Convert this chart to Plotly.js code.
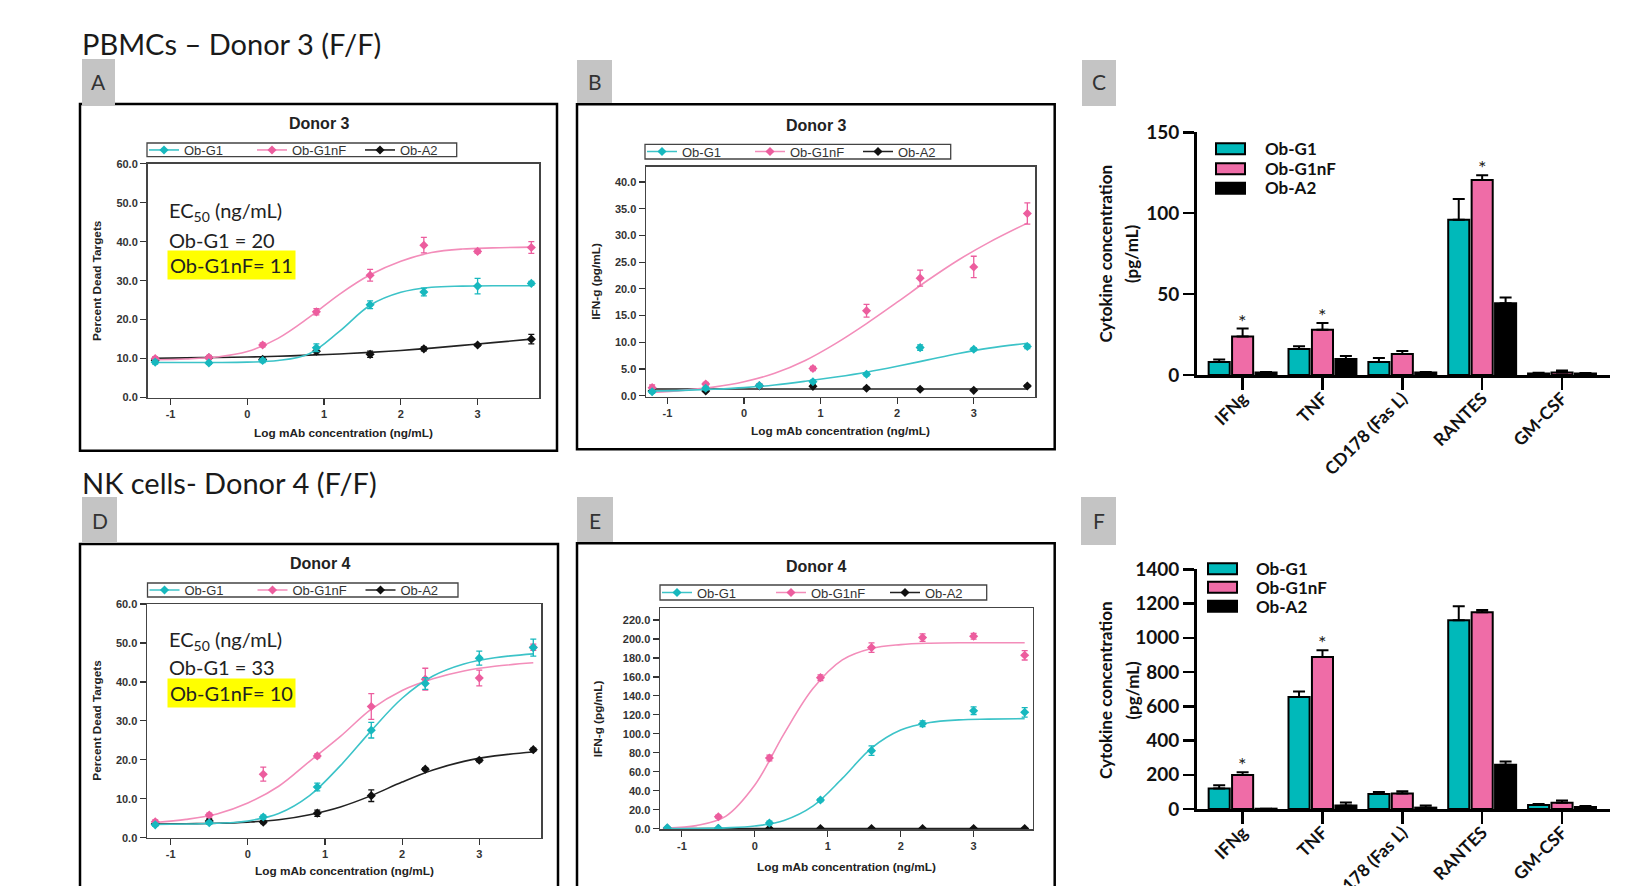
<!DOCTYPE html>
<html><head><meta charset="utf-8">
<script src="https://cdn.plot.ly/plotly-3.0.1.min.js"></script>
<style>html,body{margin:0;padding:0;background:#fff;}#chart{width:1627px;height:886px;}</style>
</head><body><div id="chart"></div>
<script>
// ---------------- DATA ----------------
const seriesNames = ['Ob-G1', 'Ob-G1nF', 'Ob-A2'];
const doses = [-1.2, -0.5, 0.2, 0.9, 1.6, 2.3, 3.0, 3.7];           // log mAb concentration (ng/mL)
const fitX  = [-1.2, -0.8, -0.4, 0, 0.4, 0.8, 1.2, 1.6, 2.0, 2.4, 2.8, 3.2, 3.7];
const xTickVals = [-1, 0, 1, 2, 3];
const xTickText = ['-1', '0', '1', '2', '3'];

// Panel A – PBMCs Donor 3, percent dead targets
const aG1      = [9.1, 8.9, 9.5, 12.8, 23.8, 27.1, 28.6, 29.3];
const aG1Err   = [0.5, 0.4, 0.5, 1.0, 1.0, 1.0, 2.0, 0.5];
const aG1nF    = [10.0, 10.3, 13.5, 22.0, 31.4, 39.1, 37.5, 38.5];
const aG1nFErr = [0.5, 0.5, 0.5, 0.8, 1.5, 2.0, 0.5, 1.5];
const aA2      = [9.6, 10.2, 9.8, 11.9, 11.1, 12.5, 13.5, 15.0];
const aA2Err   = [0.3, 0.4, 0.4, 0.8, 0.8, 0.5, 0.3, 1.2];
const aG1Fit   = [9.0, 9.0, 9.0, 9.1, 9.5, 11.2, 17.0, 23.7, 27.0, 28.3, 28.6, 28.7, 28.7];
const aG1nFFit = [9.7, 9.9, 10.4, 11.8, 15.2, 20.5, 26.5, 31.5, 35.0, 37.2, 38.1, 38.4, 38.6];
const aA2Fit   = [10.1, 10.2, 10.3, 10.4, 10.6, 10.9, 11.2, 11.6, 12.1, 12.7, 13.4, 14.1, 15.0];

// Panel B – PBMCs Donor 3, IFN-g
const bG1      = [0.75, 1.4, 1.9, 2.6, 4.0, 9.0, 8.7, 9.2];
const bG1Err   = [0.3, 0.3, 0.3, 0.3, 0.3, 0.5, 0.3, 0.4];
const bG1nF    = [1.5, 2.2, 1.9, 5.1, 15.9, 22.0, 24.1, 34.1];
const bG1nFErr = [0.5, 0.3, 0.3, 0.4, 1.2, 1.5, 2.0, 2.0];
const bA2      = [0.9, 0.9, 1.8, 1.75, 1.4, 1.2, 1.0, 1.8];
const bA2Err   = [0.2, 0.2, 0.2, 0.2, 0.2, 0.2, 0.2, 0.2];
const bG1Fit   = [0.9, 1.0, 1.2, 1.5, 2.0, 2.7, 3.5, 4.4, 5.5, 6.7, 7.9, 8.9, 9.8];
const bG1nFFit = [0.6, 1.0, 1.6, 2.6, 4.2, 6.6, 9.8, 13.5, 17.5, 21.6, 25.4, 28.7, 32.3];
const bA2Fit   = [1.25, 1.25, 1.25, 1.25, 1.25, 1.25, 1.25, 1.25, 1.25, 1.25, 1.25, 1.25, 1.25];

// Panel D – NK cells Donor 4, percent dead targets
const dG1      = [3.3, 3.85, 5.3, 13.0, 27.6, 39.6, 46.1, 48.8];
const dG1Err   = [0.4, 0.4, 0.5, 1.0, 2.0, 1.5, 1.8, 2.2];
const dG1nF    = [4.1, 5.8, 16.3, 21.0, 33.7, 40.7, 41.0, 48.9];
const dG1nFErr = [0.5, 0.5, 1.8, 0.5, 3.3, 2.8, 2.0, 0.8];
const dA2      = [3.5, 4.3, 4.0, 6.3, 10.8, 17.6, 19.9, 22.6];
const dA2Err   = [0.3, 0.5, 0.4, 0.8, 1.5, 0.4, 0.4, 0.4];
const dG1Fit   = [3.4, 3.5, 3.7, 4.3, 6.2, 10.8, 18.5, 27.5, 35.8, 41.5, 44.6, 46.2, 47.2];
const dG1nFFit = [3.9, 4.7, 6.1, 8.9, 13.2, 19.6, 26.0, 33.0, 37.8, 40.8, 42.8, 44.0, 44.9];
const dA2Fit   = [3.5, 3.6, 3.7, 4.0, 4.6, 5.9, 7.9, 10.8, 14.3, 17.4, 19.6, 21.0, 22.0];

// Panel E – NK cells Donor 4, IFN-g
const eG1      = [1.0, 0.4, 6.0, 30.2, 82.3, 110.7, 124.4, 122.7];
const eG1Err   = [0.5, 0.5, 2.0, 1.5, 5.0, 3.0, 4.0, 5.0];
const eG1nF    = [0.8, 12.7, 74.5, 159.2, 190.9, 201.4, 202.8, 182.8];
const eG1nFErr = [0.5, 1.5, 3.0, 3.0, 5.0, 4.0, 3.0, 5.0];
const eA2      = [0.2, 0.3, 0.3, 0.3, 0.3, 0.3, 0.3, 0.3];
const eA2Err   = [0.3, 0.3, 0.3, 0.3, 0.3, 0.3, 0.3, 0.3];
const eG1Fit   = [0.1, 0.2, 0.9, 2.8, 8.7, 24, 53, 85, 104, 112, 114.7, 115.5, 116];
const eG1nFFit = [0.8, 3.3, 13, 46, 100, 148, 178, 190, 194, 195.5, 196, 196, 196];
const eA2Fit   = [0.3, 0.3, 0.3, 0.3, 0.3, 0.3, 0.3, 0.3, 0.3, 0.3, 0.3, 0.3, 0.3];

// Panels C and F – cytokine bar charts
const cytokines = ['IFNg', 'TNF', 'CD178 (Fas L)', 'RANTES', 'GM-CSF'];
const cG1      = [8.0, 16.1, 8.0, 96.0, 1.0];
const cG1Err   = [1.6, 1.7, 2.5, 12.8, 0.4];
const cG1nF    = [23.8, 27.9, 13.0, 120.5, 1.6];
const cG1nFErr = [4.9, 4.3, 1.9, 3.0, 1.2];
const cA2      = [1.6, 9.9, 1.6, 44.4, 1.0];
const cA2Err   = [0.3, 1.9, 0.3, 3.5, 0.3];
const cStars   = ['IFNg', 'TNF', 'RANTES'];

const fG1      = [120, 654, 88, 1102, 23];
const fG1Err   = [19, 33, 12, 82, 6];
const fG1nF    = [199, 888, 90, 1149, 37];
const fG1nFErr = [16, 39, 13, 14, 12];
const fA2      = [2, 21, 8, 259, 12];
const fA2Err   = [0, 17, 13, 19, 6];
const fStars   = ['IFNg', 'TNF'];

// ---------------- STYLE ----------------
const W = 1627, H = 886;
const px = v => v / W, py = v => 1 - v / H;
const ARIAL = 'Arial, "Liberation Sans", sans-serif';
const LATO = 'Lato, "Noto Sans", sans-serif';
const lineCol = ['#3CC3C8', '#F38DBA', '#222222'];
const markCol = ['#17B8BE', '#EC5D9E', '#111111'];
const barCol  = ['#00B9BA', '#EF6CA7', '#000000'];

const traces = [];

function linePanel(ax, pts, errs, fits, legendName) {
  const xa = 'x' + ax, ya = 'y' + ax;
  [2, 1, 0].forEach(i => {
    traces.push({x: fitX, y: fits[i], xaxis: xa, yaxis: ya, mode: 'lines', showlegend: false,
      line: {color: lineCol[i], width: 1.6, shape: 'spline', smoothing: 1}, hoverinfo: 'skip'});
    traces.push({x: doses, y: pts[i], xaxis: xa, yaxis: ya, mode: 'markers', showlegend: false,
      marker: {symbol: 'diamond', size: 7, color: markCol[i]},
      error_y: {type: 'data', array: errs[i], color: markCol[i], thickness: 1.3, width: 3}});
  });
  [0, 1, 2].forEach(i => {
    traces.push({x: [null], y: [null], xaxis: xa, yaxis: ya, mode: 'lines+markers', name: seriesNames[i],
      legend: legendName, line: {color: lineCol[i], width: 1.6}, marker: {symbol: 'diamond', size: 7, color: markCol[i]}});
  });
}

function barPanel(ax, vals, errs) {
  [0, 1, 2].forEach(i => {
    traces.push({type: 'bar', x: cytokines, y: vals[i], xaxis: 'x' + ax, yaxis: 'y' + ax, name: seriesNames[i],
      showlegend: false, marker: {color: barCol[i], line: {color: '#000', width: 2}},
      error_y: {type: 'data', symmetric: false, array: errs[i], arrayminus: [0, 0, 0, 0, 0], color: '#000', thickness: 2, width: 6}});
  });
}

linePanel('', [aG1, aG1nF, aA2], [aG1Err, aG1nFErr, aA2Err], [aG1Fit, aG1nFFit, aA2Fit], 'legend');
linePanel('2', [bG1, bG1nF, bA2], [bG1Err, bG1nFErr, bA2Err], [bG1Fit, bG1nFFit, bA2Fit], 'legend2');
barPanel('3', [cG1, cG1nF, cA2], [cG1Err, cG1nFErr, cA2Err]);
linePanel('4', [dG1, dG1nF, dA2], [dG1Err, dG1nFErr, dA2Err], [dG1Fit, dG1nFFit, dA2Fit], 'legend4');
linePanel('5', [eG1, eG1nF, eA2], [eG1Err, eG1nFErr, eA2Err], [eG1Fit, eG1nFFit, eA2Fit], 'legend5');
barPanel('6', [fG1, fG1nF, fA2], [fG1Err, fG1nFErr, fA2Err]);

// ---------------- AXES ----------------
function lineX(d0, d1, r, anchor) {
  return {domain: [px(d0), px(d1)], range: r, anchor: anchor, tickvals: xTickVals, ticktext: xTickText,
    ticks: 'outside', ticklen: 6, tickwidth: 1.2, tickcolor: '#333', showline: true, linecolor: '#444', linewidth: 1.5,
    mirror: true, showgrid: false, zeroline: false, tickfont: {family: ARIAL, size: 11, weight: 'bold', color: '#333'}};
}
function lineY(top, bot, r, dt, anchor) {
  return {domain: [py(bot), py(top)], range: r, dtick: dt, tick0: 0, tickformat: '.1f', anchor: anchor,
    ticks: 'outside', ticklen: 6, tickwidth: 1.2, tickcolor: '#333', showline: true, linecolor: '#444', linewidth: 1.5,
    mirror: true, showgrid: false, zeroline: false, tickfont: {family: ARIAL, size: 11, weight: 'bold', color: '#333'}};
}
function barX(anchor) {
  return {domain: [px(1196.7), px(1609.7)], range: [-0.575, 4.597], type: 'category', anchor: anchor,
    ticks: 'outside', ticklen: 12, tickwidth: 2.5, tickcolor: '#000', showline: true, linecolor: '#000', linewidth: 2.5,
    showgrid: false, zeroline: false, tickangle: -45, ticklabelstandoff: -8,
    tickfont: {family: LATO, size: 17.5, weight: 'bold', color: '#111'}};
}
function barY(top, bot, r, dt, anchor) {
  return {domain: [py(bot), py(top)], range: r, dtick: dt, anchor: anchor,
    ticks: 'outside', ticklen: 11, tickwidth: 2.5, tickcolor: '#000', showline: true, linecolor: '#000', linewidth: 2.5,
    showgrid: false, zeroline: false, tickfont: {family: LATO, size: 19, weight: 'bold', color: '#111'}};
}

function lineLegend(x, yc, ew) {
  return {x: px(x), y: py(yc), xanchor: 'left', yanchor: 'middle', orientation: 'h', borderwidth: 0,
    bgcolor: 'rgba(255,255,255,0)', font: {family: ARIAL, size: 13, color: '#333'}, entrywidth: ew, entrywidthmode: 'pixels',
    itemclick: false, itemdoubleclick: false};
}

// ---------------- SHAPES ----------------
const frames = [[80, 104, 557, 450.7], [577, 104.3, 1054.7, 449.3], [80, 544, 558, 905], [577, 543.3, 1054.7, 905]];
const labelBoxes = [[82, 59, 115, 106], [577, 60, 612, 103], [1082, 60, 1116, 106], [82, 497, 117, 543], [577, 497, 613, 542], [1081, 497, 1116, 545]];
const legendBoxes = [[147, 143, 456.7, 156.7], [645, 144.3, 950.7, 159], [147.5, 583, 458, 597], [660, 585, 986.7, 600]];
// bar-chart legend keys: [left, top, textX, textY] per panel
const barKeysC = [[1216, 143.3, 1262.5, 148.3], [1216, 163.3, 1262.5, 168.3], [1216, 182.7, 1262.5, 187.7]];
const barKeysF = [[1208, 563.3, 1253.5, 568.3], [1208, 581.7, 1253.5, 587.3], [1208, 600.7, 1253.5, 606.7]];

const shapes = [];
const rectP = (x0, y0, x1, y1, o) => Object.assign({type: 'rect', xref: 'paper', yref: 'paper', x0: px(x0), y0: py(y0), x1: px(x1), y1: py(y1)}, o);
frames.forEach(f => shapes.push(rectP(f[0], f[1], f[2], f[3], {line: {color: '#000', width: 2.5}, fillcolor: 'rgba(0,0,0,0)'})));
labelBoxes.forEach(b => shapes.push(rectP(b[0], b[1], b[2], b[3], {line: {width: 0}, fillcolor: '#C4C4C4'})));
legendBoxes.forEach(b => shapes.push(rectP(b[0], b[1], b[2], b[3], {line: {color: '#444', width: 1.3}, fillcolor: 'rgba(0,0,0,0)'})));
[barKeysC, barKeysF].forEach(keys => keys.forEach((k, i) =>
  shapes.push(rectP(k[0], k[1], k[0] + 29, k[1] + 11, {line: {color: '#000', width: 2}, fillcolor: barCol[i]}))));

// ---------------- ANNOTATIONS ----------------
function ann(text, x, y, o) {
  return Object.assign({text: text, x: px(x), y: py(y), xref: 'paper', yref: 'paper', showarrow: false,
    xanchor: 'center', yanchor: 'middle'}, o || {});
}
const bigFont = {family: LATO, size: 29, color: '#1a1a1a'};
const letterFont = {family: LATO, size: 21, color: '#333'};
const donorFont = {family: ARIAL, size: 16, weight: 'bold', color: '#222'};
const axFont = {family: ARIAL, size: 11.8, weight: 'bold', color: '#222'};
const ecFont = {family: LATO, size: 20, color: '#222'};
const cyFont = {family: LATO, size: 17, weight: 'bold', color: '#111'};
const legFont = {family: LATO, size: 17, weight: 'bold', color: '#111'};

const annotations = [
  ann('PBMCs – Donor 3 (F/F)', 80, 43, {xanchor: 'left', font: bigFont}),
  ann('NK cells- Donor 4 (F/F)', 80, 482, {xanchor: 'left', font: bigFont}),
  ann('A', 98.5, 82, {font: letterFont}), ann('B', 594.5, 82, {font: letterFont}), ann('C', 1099, 82, {font: letterFont}),
  ann('D', 99.5, 520, {font: letterFont}), ann('E', 595, 520, {font: letterFont}), ann('F', 1098.5, 520, {font: letterFont}),
  ann('Donor 3', 319, 123.5, {font: donorFont}), ann('Donor 3', 816, 125, {font: donorFont}),
  ann('Donor 4', 320, 563.5, {font: donorFont}), ann('Donor 4', 816, 566, {font: donorFont}),
  ann('Log mAb concentration (ng/mL)', 343, 432.7, {font: axFont}), ann('Log mAb concentration (ng/mL)', 840, 430.7, {font: axFont}),
  ann('Log mAb concentration (ng/mL)', 344, 870.7, {font: axFont}), ann('Log mAb concentration (ng/mL)', 846, 867.3, {font: axFont}),
  ann('Percent Dead Targets', 97, 281, {textangle: -90, font: axFont}), ann('Percent Dead Targets', 97, 720.7, {textangle: -90, font: axFont}),
  ann('IFN-g (pg/mL)', 596, 281.7, {textangle: -90, font: axFont}), ann('IFN-g (pg/mL)', 598.3, 719, {textangle: -90, font: axFont}),
  ann('EC<sub>50</sub> (ng/mL)', 167, 211, {xanchor: 'left', font: ecFont}),
  ann('Ob-G1 = 20', 167, 240, {xanchor: 'left', font: ecFont}),
  ann('Ob-G1nF= 11', 167, 265.5, {xanchor: 'left', font: ecFont, bgcolor: '#FFFF00', borderpad: 2}),
  ann('EC<sub>50</sub> (ng/mL)', 167, 640, {xanchor: 'left', font: ecFont}),
  ann('Ob-G1 = 33', 167, 667, {xanchor: 'left', font: ecFont}),
  ann('Ob-G1nF= 10', 167, 693, {xanchor: 'left', font: ecFont, bgcolor: '#FFFF00', borderpad: 2}),
  ann('Cytokine concentration', 1105, 253.5, {textangle: -90, font: cyFont}),
  ann('(pg/mL)', 1132, 254, {textangle: -90, font: cyFont}),
  ann('Cytokine concentration', 1105, 690, {textangle: -90, font: cyFont}),
  ann('(pg/mL)', 1132, 690.5, {textangle: -90, font: cyFont})
];
[barKeysC, barKeysF].forEach(keys => keys.forEach((k, i) =>
  annotations.push(ann(seriesNames[i], k[2], k[3], {xanchor: 'left', font: legFont}))));
// significance asterisks placed over the Ob-G1nF bars via the data scales
cStars.forEach(c => { const i = cytokines.indexOf(c);
  annotations.push({text: '*', x: c, y: cG1nF[i] + cG1nFErr[i], xref: 'x3', yref: 'y3', xanchor: 'center', yanchor: 'bottom',
    showarrow: false, font: {family: LATO, size: 20, color: '#222'}, yshift: -6}); });
fStars.forEach(c => { const i = cytokines.indexOf(c);
  annotations.push({text: '*', x: c, y: fG1nF[i] + fG1nFErr[i], xref: 'x6', yref: 'y6', xanchor: 'center', yanchor: 'bottom',
    showarrow: false, font: {family: LATO, size: 20, color: '#222'}, yshift: -6}); });

const layout = {
  width: W, height: H, margin: {l: 0, r: 0, t: 0, b: 0}, paper_bgcolor: '#fff', plot_bgcolor: 'rgba(0,0,0,0)',
  showlegend: true, hovermode: false, barmode: 'group', bargap: 0.12, bargroupgap: 0.1,
  xaxis:  lineX(147.5, 539, [-1.3, 3.8], 'y'),
  yaxis:  lineY(163.7, 397.6, [0, 60], 10, 'x'),
  xaxis2: lineX(646, 1035, [-1.28, 3.8], 'y2'),
  yaxis2: lineY(166.7, 396.7, [-0.19, 42.86], 5, 'x2'),
  xaxis3: barX('y3'),
  yaxis3: barY(132.3, 375, [0, 150], 50, 'x3'),
  xaxis4: lineX(147, 541, [-1.307, 3.8], 'y4'),
  yaxis4: lineY(604, 837.7, [0, 60], 10, 'x4'),
  xaxis5: lineX(660, 1032.7, [-1.3, 3.81], 'y5'),
  yaxis5: lineY(608.3, 829.3, [-0.6, 232.3], 20, 'x5'),
  xaxis6: barX('y6'),
  yaxis6: barY(569.3, 809, [0, 1400], 200, 'x6'),
  legend:  lineLegend(144, 150, 63),
  legend2: lineLegend(642, 151.6, 63),
  legend4: lineLegend(144.5, 590, 63),
  legend5: lineLegend(657, 592.5, 69),
  shapes: shapes,
  annotations: annotations
};
Plotly.newPlot('chart', traces, layout, {displayModeBar: false, staticPlot: true});
</script></body></html>
